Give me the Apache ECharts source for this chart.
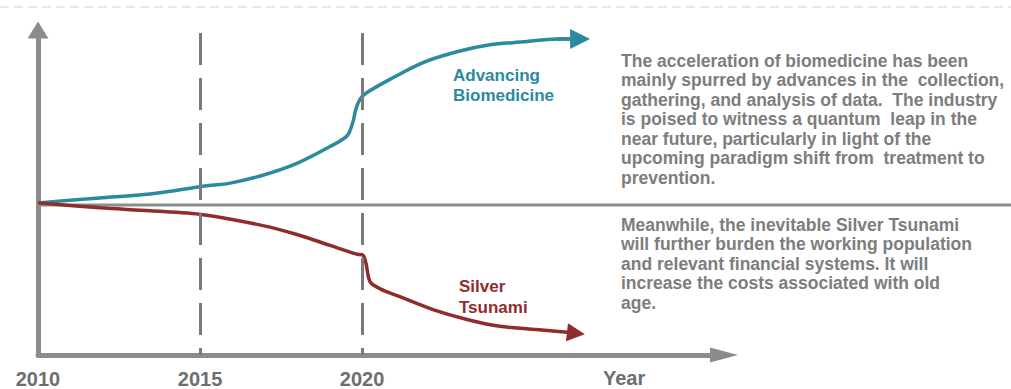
<!DOCTYPE html>
<html>
<head>
<meta charset="utf-8">
<script src="https://cdn.jsdelivr.net/npm/echarts@6/dist/echarts.min.js"></script>
<style>
  html, body { margin: 0; padding: 0; background: #fff; }
  #chart { width: 1011px; height: 389px; }
</style>
</head>
<body>
<div id="chart"></div>
<script>
// x = year, y = relative trend (no units), 0 = the 2010 level
const bioYears = [2010, 2011.9, 2013.46, 2015.15, 2015.93, 2016.94, 2017.99, 2019.01, 2019.54, 2019.72,
  2019.81, 2019.94, 2020.12, 2020.86, 2021.88, 2022.93, 2023.95, 2024.97, 2026.02, 2026.73];
const bioValues = [0, 5, 9, 17, 20, 28, 40, 57, 68, 82, 95, 105, 111, 125, 142, 153, 160, 163, 166, 166];

const silverYears = [2010, 2011.91, 2013.46, 2015.09, 2016.94, 2017.99, 2019.01, 2019.85, 2020.03, 2020.12,
  2020.25, 2020.56, 2021.17, 2022.19, 2023.24, 2024.26, 2025.28, 2026.33, 2026.6];
const silverValues = [0, -5, -8, -12, -23, -32, -43, -52, -53, -61, -80, -87, -95, -108, -118, -125, -128, -131, -132];

const tickYears = [2010, 2015, 2020];
const markerYears = [2015, 2020];
const baseLevel = 0;

const bioText = 'The acceleration of biomedicine has been\nmainly spurred by advances in the  collection,\ngathering, and analysis of data.  The industry\nis poised to witness a quantum  leap in the\nnear future, particularly in light of the\nupcoming paradigm shift from  treatment to\nprevention.';
const silverText = 'Meanwhile, the inevitable Silver Tsunami\nwill further burden the working population\nand relevant financial systems. It will\nincrease the costs associated with old\nage.';

const BLUE = '#2b8a9e';
const RED = '#8f2c2c';
const GREY = '#8c8c8c';
const TEXT = '#7d7d7d';
const FONT = '"Liberation Sans", Arial, sans-serif';

const yMin = -154, yMax = 175;

function pairs(xs, ys) {
  return xs.map((x, i) => [x, ys[i]]);
}
// arrow head = last segment of the curve
function tail(xs, ys) {
  const n = xs.length;
  return [{ coords: [[xs[n - 2], ys[n - 2]], [xs[n - 1], ys[n - 1]]] }];
}

const chart = echarts.init(document.getElementById('chart'), null, { renderer: 'svg' });

const option = {
  animation: false,
  grid: [
    { left: 38, right: 287, top: 30, bottom: 30 },
    { left: 38, right: 0, top: 30, bottom: 30 }
  ],
  xAxis: [
    {
      type: 'value', gridIndex: 0, min: 2010, max: 2031.17, interval: 5,
      axisLine: {
        onZero: false,
        lineStyle: { color: GREY, width: 5 },
        symbol: ['none', 'triangle'], symbolSize: [15, 28]
      },
      axisTick: { show: false },
      splitLine: { show: false },
      axisLabel: {
        showMaxLabel: false,
        formatter: v => (tickYears.includes(v) ? String(v) : ''),
        color: '#6e6e6e', fontSize: 20, fontWeight: 'bold', fontFamily: FONT, margin: 14
      }
    },
    { type: 'value', gridIndex: 1, min: 0, max: 1, show: false }
  ],
  yAxis: [
    {
      type: 'value', gridIndex: 0, min: yMin, max: yMax,
      axisLine: {
        show: true, onZero: false,
        lineStyle: { color: GREY, width: 5 },
        symbol: ['none', 'triangle'], symbolSize: [21, 17]
      },
      axisTick: { show: false },
      axisLabel: { show: false },
      splitLine: { show: false }
    },
    { type: 'value', gridIndex: 1, min: yMin, max: yMax, show: false }
  ],
  series: [
    {
      name: 'base', type: 'line', xAxisIndex: 1, yAxisIndex: 1,
      data: [[0, baseLevel], [1, baseLevel]],
      symbol: 'none', silent: true,
      lineStyle: { color: GREY, width: 3 }
    },
    {
      name: 'Advancing Biomedicine', type: 'line',
      data: pairs(bioYears, bioValues),
      smooth: 0.3, symbol: 'none', z: 3,
      lineStyle: { color: BLUE, width: 3.5 },
      markLine: {
        silent: true, symbol: ['none', 'none'], label: { show: false },
        lineStyle: { color: '#7a7a7a', width: 3, type: [32, 13] },
        data: markerYears.map(y => [{ coord: [y, yMax - 3] }, { coord: [y, yMin] }])
      }
    },
    {
      name: 'Silver Tsunami', type: 'line',
      data: pairs(silverYears, silverValues),
      smooth: 0.3, symbol: 'none', z: 3,
      lineStyle: { color: RED, width: 3.5 }
    },
    {
      type: 'lines', coordinateSystem: 'cartesian2d', z: 4,
      symbol: ['none', 'triangle'], symbolSize: [14, 20],
      lineStyle: { color: BLUE, width: 3.5, opacity: 1 },
      data: tail(bioYears, bioValues)
    },
    {
      type: 'lines', coordinateSystem: 'cartesian2d', z: 4,
      symbol: ['none', 'triangle'], symbolSize: [12, 18],
      lineStyle: { color: RED, width: 3.5, opacity: 1 },
      data: tail(silverYears, silverValues)
    }
  ],
  graphic: [
    {
      type: 'line', silent: true,
      shape: { x1: 0, y1: 7, x2: 1011, y2: 7 },
      style: { stroke: '#d2d2d2', lineWidth: 1, lineDash: [9, 5] }
    },
    {
      type: 'text', x: 453, y: 65,
      style: { text: 'Advancing\nBiomedicine', fill: BLUE, fontSize: 17, fontWeight: 'bold', fontFamily: FONT, lineHeight: 20 }
    },
    {
      type: 'text', x: 459, y: 276,
      style: { text: 'Silver\nTsunami', fill: RED, fontSize: 17, fontWeight: 'bold', fontFamily: FONT, lineHeight: 21 }
    },
    {
      type: 'text', x: 621, y: 51,
      style: { text: bioText, fill: TEXT, fontSize: 17.5, fontWeight: 'bold', fontFamily: FONT, lineHeight: 19.5 }
    },
    {
      type: 'text', x: 621, y: 215,
      style: { text: silverText, fill: TEXT, fontSize: 17.5, fontWeight: 'bold', fontFamily: FONT, lineHeight: 19.5 }
    },
    {
      type: 'text', x: 603, y: 368,
      style: { text: 'Year', fill: '#6e6e6e', fontSize: 20, fontWeight: 'bold', fontFamily: FONT }
    }
  ]
};

chart.setOption(option);
</script>
</body>
</html>
